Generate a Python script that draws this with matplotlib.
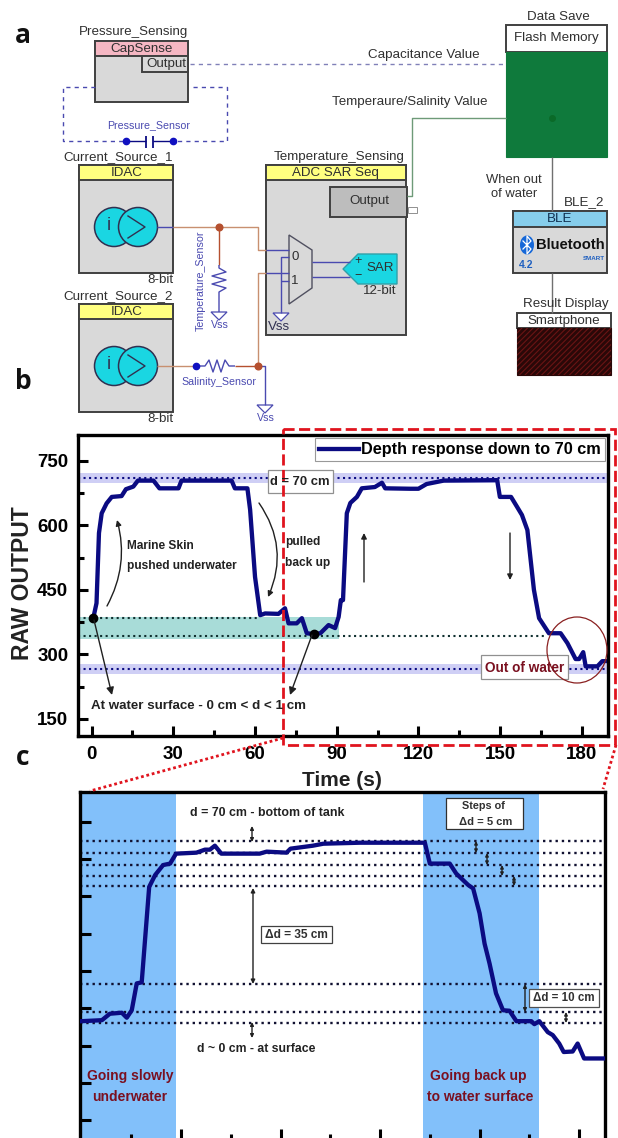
import numpy as np
import matplotlib
matplotlib.use("Agg")
import matplotlib.pyplot as plt
from matplotlib.patches import Rectangle, Circle, Polygon, Ellipse

plt.rcParams['font.family'] = ['Liberation Sans', 'DejaVu Sans']

W, H = 618, 1138

# panel b : full record
time_b = [0.6, 1.8, 2.7, 3.7, 5.5, 7.4, 11, 12.6, 15.3, 17, 22.7, 24.9, 31.9, 33, 51.4, 52.6, 57.2, 58.2, 60,
          61.9, 63.7, 68.6, 71, 72.3, 75.3, 77.2, 79, 81.5, 84, 87, 89.4, 90.7, 91.5, 92.3, 93.7, 95, 97.4,
          99.2, 104, 106.6, 107.8, 117, 120, 123, 129.3, 148.9, 149.9, 154, 156.2, 158, 160, 162.4, 164.3,
          167.9, 172.2, 174.7, 177.7, 179, 180.5, 181.4, 185.7, 187.5, 188.7]
raw_b = [384, 419, 582, 628, 651, 666, 668, 684, 690, 704, 704, 686, 686, 704, 704, 686, 686, 636, 480,
         391, 395, 394, 407, 372, 372, 384, 349, 347, 349, 368, 361, 387, 426, 426, 628, 652, 666,
         686, 689, 699, 686, 685, 685, 696, 704, 705, 666, 666, 643, 624, 589, 450, 384,
         349, 349, 326, 289, 289, 305, 272, 272, 284, 284]
xticks_b = [0, 30, 60, 90, 120, 150, 180]
yticks_b = [150, 300, 450, 600, 750]

# panel c : zoom on the same record
time_c = [80, 84.1, 85.7, 88.1, 89.1, 90.1, 91.1, 92.1, 93.6, 94.8, 96.4, 97.8, 99, 103.1, 104.8, 105.8, 106.8,
          108.1, 115.8, 117.2, 121.2, 122, 126.5, 128.6, 135.9, 149, 150, 154, 155.3, 157.7, 158.7, 160, 161,
          162, 163.3, 164.7, 166, 167.4, 170.4, 171, 172, 173.7, 174.7, 176, 176.9, 178.7, 179.7, 181, 185.1]
raw_c = [349, 351, 364, 366, 356, 371, 425, 427, 619, 643, 663, 666, 686, 688, 694, 694, 702,
         686, 686, 690, 688, 696, 702, 706, 708, 708, 666, 666, 646, 623, 616, 566, 505,
         465, 405, 371, 370, 349, 349, 343, 349, 327, 321, 304, 287, 288, 304, 274, 274]
levels_c = [711, 687, 663, 642, 621, 424, 368, 346]
spans_c = [(80, 99), (148.6, 171.9)]

navy = '#0B0B82'
red = '#E0141E'
wine = '#7A1020'
gray = '#D9D9D9'
cyan = '#1AD6E2'
blue = '#4A4AB0'
brown = '#B5502F'


def axes_px(l, t, r, b):
    return fig.add_axes([l / W, 1 - b / H, (r - l) / W, (b - t) / H])


fig = plt.figure(figsize=(W / 100, H / 100), dpi=100)

# --------------- b ---------------
ax = axes_px(78, 435, 608, 736)
ax.set_xlim(-5, 189.6)
ax.set_ylim(110, 810)
ax.axhspan(254, 277, color='#CFCFF5', lw=0)
ax.axhspan(698, 722, color='#CFCFF5', lw=0)
ax.fill_between([-5, 91], 335, 387, color='#A8DCD8', lw=0)
ax.axhline(265, color=navy, ls=':', lw=1.5)
ax.axhline(710, color=navy, ls=':', lw=1.5)
ax.plot([-5, 62], [384, 384], color='#103030', ls=':', lw=1.5)
ax.plot([-5, 167], [343, 343], color='#103030', ls=':', lw=1.5)
ax.plot(time_b, raw_b, color=navy, lw=3.1, solid_joinstyle='round', label='Depth response down to 70 cm')
ax.plot([time_b[0], time_b[27]], [raw_b[0], raw_b[27]], 'o', color='black', ms=6, zorder=5)
ax.set_xticks(xticks_b)
ax.set_yticks(yticks_b)
ax.set_xticks(np.arange(15, 189, 30), minor=True)
ax.set_yticks(np.arange(225, 800, 150), minor=True)
ax.tick_params(which='major', direction='in', length=7, width=2.2, labelsize=13.5, pad=7)
ax.tick_params(which='minor', direction='in', length=4, width=2.2)
for lab in ax.get_xticklabels() + ax.get_yticklabels():
    lab.set_fontweight('bold')
for s in ax.spines.values():
    s.set_linewidth(2.4)
leg = ax.legend(loc='upper right', bbox_to_anchor=(1.0, 1.0), borderaxespad=0.2, fancybox=False, framealpha=1,
                edgecolor='#999999', handlelength=2.45, handletextpad=0.12, borderpad=0.25,
                prop={'weight': 'bold', 'size': 11.7})
leg.get_frame().set_linewidth(0.8)

# --------------- c ---------------
ax2 = axes_px(80, 792, 605, 1140)
ax2.set_xlim(79.7, 185.2)
ax2.set_ylim(110, 810)
for a, b in spans_c:
    ax2.axvspan(a, b, color='#82C0FA', lw=0)
for lev in levels_c:
    ax2.axhline(lev, color='#101030', ls=':', lw=1.7)
ax2.plot(time_c, raw_c, color=navy, lw=3.1, solid_joinstyle='round', zorder=4)
ax2.set_xticks([100, 120, 140, 160, 180])
ax2.set_xticks([90, 110, 130, 150, 170], minor=True)
ax2.set_yticks(np.arange(150, 800, 75))
ax2.tick_params(which='major', direction='in', length=8, width=2.2, labelbottom=False, labelleft=False)
ax2.tick_params(which='minor', direction='in', length=4, width=2.2)
for s in ax2.spines.values():
    s.set_linewidth(2.4)

# --------------- overlay in pixels ---------------
ov = fig.add_axes([0, 0, 1, 1], zorder=10)
ov.set_xlim(0, W)
ov.set_ylim(H, 0)
ov.axis('off')
ov.patch.set_alpha(0)


def txt(x, y, s, size=9.6, color='#303030', weight='normal', ha='center', **kw):
    return ov.text(x, y, s, fontsize=size, color=color, fontweight=weight, ha=ha, va='center', **kw)


def box(x0, y0, x1, y1, face=gray, edge='#404040', lw=1.4, **kw):
    ov.add_patch(Rectangle((x0, y0), x1 - x0, y1 - y0, facecolor=face, edgecolor=edge, lw=lw, **kw))


def wire(xs, ys, color=blue, lw=1.0, ls='-'):
    ov.plot(xs, ys, color=color, lw=lw, ls=ls, solid_capstyle='butt')


def arrow(x0, y0, x1, y1, style='-|>', rad=0, lw=1.0, ms=8):
    ov.annotate('', xy=(x1, y1), xytext=(x0, y0),
                arrowprops=dict(arrowstyle=style, color='#202020', lw=lw, mutation_scale=ms, shrinkA=0, shrinkB=0,
                                connectionstyle=f'arc3,rad={rad}'))


def ground(x, y):
    ov.add_patch(Polygon([(x - 8, y), (x + 8, y), (x, y + 8)], facecolor='white', edgecolor=blue, lw=0.9))


def idac(top, title, title_y, bit_y):
    box(79, top, 173, top + 108)
    box(79, top, 173, top + 15, face='#FFFF80')
    txt(127, top + 7.5, 'IDAC')
    txt(118, title_y, title)
    txt(173, bit_y, '8-bit', ha='right')
    cy = top + 62
    ov.add_patch(Circle((114, cy), 19.5, facecolor=cyan, edgecolor='#303050', lw=1.1))
    ov.add_patch(Circle((138, cy), 19.5, facecolor=cyan, edgecolor='#303050', lw=1.1))
    txt(109, cy - 2, 'i', 13, color='#303050')
    ov.plot([128, 145, 128], [cy - 11, cy, cy + 11], color='#303050', lw=1.0)


# panel letters
for x, y, s in [(23, 35, 'a'), (23, 381, 'b'), (23, 757, 'c')]:
    ov.text(x, y, s, fontsize=19, fontweight='bold', family=['Open Sans', 'DejaVu Sans'], ha='center', va='center',
            color='#111111')

# pressure block
txt(133, 32, 'Pressure_Sensing')
box(95, 41, 188, 102)
box(95, 41, 188, 56, face='#F5B7C3')
txt(142, 48.5, 'CapSense')
box(142, 56, 188, 72, face=gray)
txt(166, 64, 'Output')
wire([190, 505], [64, 64], color='#8080B8', ls=(0, (3, 3)))
wire([95, 63, 63, 126], [87, 87, 141, 141], ls=(0, (3, 3)))
wire([193, 227, 227, 173], [87, 87, 141, 141], ls=(0, (3, 3)))
wire([126, 146], [141, 141], color=navy)
wire([153, 173], [141, 141], color=navy)
wire([146, 146], [136, 148], color=navy, lw=1.3)
wire([153, 153], [136, 148], color=navy, lw=1.3)
ov.plot([126, 173], [141, 141], 'o', color='#1010C0', ms=4.5)
txt(149, 125, 'Pressure_Sensor', 7.7, color=blue)

# current sources
idac(165, 'Current_Source_1', 157, 280)
idac(304, 'Current_Source_2', 296, 419)

# temperature block
txt(339, 157, 'Temperature_Sensing')
box(266, 165, 406, 335)
box(266, 165, 406, 180, face='#FFFF80')
txt(335, 172.5, 'ADC SAR Seq')
box(330, 187, 407, 217, face='#BDBDBD')
txt(369, 201, 'Output')
box(408, 207, 417, 213, face='white', edge='#909090', lw=0.7)
ov.add_patch(Polygon([(289, 235), (312, 250), (312, 288), (289, 304)], facecolor=gray, edgecolor='#505060', lw=1.0))
txt(295, 257, '0')
txt(295, 281, '1')
ov.add_patch(Polygon([(343, 269), (358, 254), (397, 254), (397, 284), (358, 284)], facecolor=cyan,
                     edgecolor='#30A0A8', lw=1.0))
txt(380, 268, 'SAR')
txt(358, 261, '+', 9)
txt(358, 276, '−', 9)
txt(380, 291, '12-bit')
wire([312, 350], [262, 262])
wire([312, 350], [277, 277])

# wiring
wire([157, 173], [227, 227])
wire([173, 258, 258, 266], [227, 227, 250, 250], color='#C89070')
wire([266, 289], [250, 250])
wire([219, 219], [227, 265], color=brown)
wire([219, 219, 226, 212, 226, 212, 226, 219, 219], [265, 268, 272, 276, 280, 284, 288, 292, 312])
ground(219, 312)
txt(201, 281, 'Temperature_Sensor', 7.7, color=blue, rotation=90)
txt(220, 325, 'Vss', 7.7, color=blue)
wire([157, 196], [366, 366], color='#C89070')
wire([196, 205, 209, 213, 217, 221, 225, 229, 235], [366, 366, 360, 372, 360, 372, 360, 366, 366])
wire([235, 258], [366, 366], color=brown)
wire([258, 258, 266], [366, 273, 273], color='#C89070')
wire([266, 289], [273, 273])
wire([258, 265, 265], [366, 366, 405])
ground(265, 405)
txt(266, 418, 'Vss', 7.7, color=blue)
txt(219, 382, 'Salinity_Sensor', 7.7, color=blue)
wire([289, 281, 281], [257, 257, 313])
wire([289, 281], [281, 281])
ground(281, 313)
txt(279, 327, 'Vss', color='#303050')
ov.plot([219, 258], [227, 366], 'o', color=brown, ms=4.8)
ov.plot([196], [366], 'o', color='#1010C0', ms=4.5)

# data save side
txt(424, 55, 'Capacitance Value')
txt(410, 102, 'Temperaure/Salinity Value')
wire([407, 412, 412, 506], [196, 196, 118, 118], color='#6E9A78')
txt(558, 17, 'Data Save')
box(506, 25, 607, 52, face='white')
txt(556, 38, 'Flash Memory')
box(506, 52, 607, 157, face='#0F7A3C', edge='#0F7A3C', lw=0.8)
ov.plot([552], [118], 'o', color='#0A6A28', ms=4)
wire([552, 552], [157, 211], color='#707070')
txt(514, 187, 'When out\nof water', 9.4, linespacing=1.25)
txt(604, 202, 'BLE_2', ha='right')
box(513, 211, 607, 273)
box(513, 211, 607, 227, face='#86CDEB')
txt(560, 219, 'BLE', color='#103050')
ov.add_patch(Ellipse((527, 245), 14, 19, facecolor='#1668D8', edgecolor='none'))
ov.plot([523, 531, 527, 527, 531, 523], [241, 249, 254, 236, 241, 249], color='white', lw=0.9)
txt(570, 245, 'Bluetooth', 10.6, color='#111111', weight='bold')
txt(594, 258, 'SMART', 4.5, color='#2060C0', weight='bold')
txt(526, 265, '4.2', 7.5, color='#2060C0', weight='bold')
wire([552, 552], [273, 313], color='#707070')
txt(566, 304, 'Result Display')
box(517, 313, 611, 328, face='white')
txt(564, 320.5, 'Smartphone')
plt.rcParams['hatch.linewidth'] = 0.8
box(517, 328, 611, 375, face='#2A0808', edge='#2A0808', lw=0.8)
ov.add_patch(Rectangle((517, 328), 94, 47, facecolor='none', edgecolor='#6A1414', hatch='//////', lw=0))

# panel b notes
bw = dict(size=8.6, weight='bold', color='#222222', ha='left')
txt(127, 546, 'Marine Skin', **bw)
txt(127, 566, 'pushed underwater', **bw)
txt(285, 542, 'pulled', **bw)
txt(285, 563, 'back up', **bw)
txt(91, 706, 'At water surface - 0 cm < d < 1 cm', 9.6, weight='bold', color='#222222', ha='left')
box(268, 470, 333, 493, face='white', edge='#909090', lw=0.9)
txt(300, 482, 'd = 70 cm', 9.4, weight='bold', color='#222222')
box(481, 655, 568, 679, face='white', edge='#909090', lw=0.9)
txt(525, 668, 'Out of water', 9.8, weight='bold', color=wine)
ov.add_patch(Ellipse((577, 650), 60, 66, facecolor='none', edgecolor='#8A2020', lw=0.9))
arrow(107, 606, 117, 520, rad=0.2)
arrow(259, 503, 268, 597, rad=-0.28)
arrow(94, 620, 112, 695, ms=11)
arrow(312, 635, 290, 695, ms=11)
arrow(364, 582, 364, 533)
arrow(510, 533, 510, 580)
txt(342, 780, 'Time (s)', 15, weight='bold', color='#222222')
txt(23, 583, 'RAW OUTPUT', 16.5, weight='bold', color='#222222', rotation=90)

# zoom frame
ov.add_patch(Rectangle((283, 429), 332, 316, facecolor='none', edgecolor=red, lw=2, ls=(0, (4, 1.6))))
ov.plot([283, 90], [738, 791], color=red, lw=2, ls=(0, (1, 1)))
ov.plot([616, 603], [745, 789], color=red, lw=2, ls=(0, (1, 1)))

# panel c notes
txt(267, 813, 'd = 70 cm - bottom of tank', 8.9, weight='bold', color='#222222')
txt(256, 1049, 'd ~ 0 cm - at surface', 8.8, weight='bold', color='#222222')
arrow(252, 826, 252, 842, style='<|-|>', ms=5)
arrow(253, 888, 253, 984, style='<|-|>', ms=6)
arrow(252, 1022, 252, 1038, style='<|-|>', ms=5)
box(261, 926, 332, 943, face='white', edge='#404040', lw=0.9)
txt(296, 935, 'Δd = 35 cm', 8.6, weight='bold', color='#303030')
box(446, 798, 523, 829, face='white', edge='#303030', lw=0.9)
txt(483, 806, 'Steps of', 7.8, weight='bold', color='#303030')
txt(486, 822, 'Δd = 5 cm', 8, weight='bold', color='#303030')
for x, y0, y1 in [(476, 841, 853), (487, 853, 865), (502, 865, 876), (514, 876, 886), (566, 1012, 1023)]:
    arrow(x, y0, x, y1, style='<|-|>', ms=4.5)
arrow(525, 984, 525, 1012, style='<|-|>', ms=5)
box(529, 989, 599, 1007, face='white', edge='#505050', lw=0.9)
txt(564, 998, 'Δd = 10 cm', 8.3, weight='bold', color='#303030')
for x, y, s in [(130, 1076, 'Going slowly'), (130, 1097, 'underwater'), (478, 1076, 'Going back up'),
                (480, 1097, 'to water surface')]:
    txt(x, y, s, 10, weight='bold', color=wine)

fig.savefig('out.png', dpi=100)
